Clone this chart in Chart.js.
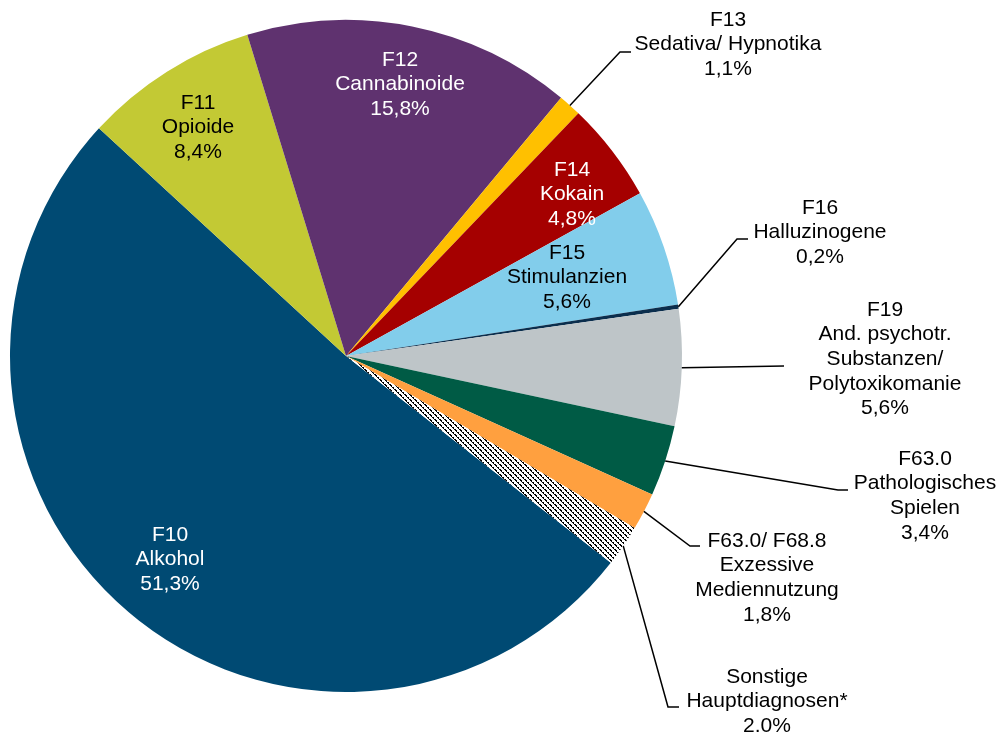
<!DOCTYPE html>
<html>
<head>
<meta charset="utf-8">
<script src="https://cdn.jsdelivr.net/npm/chart.js@4.4.1/dist/chart.umd.min.js"></script>
<style>
  html, body { margin: 0; padding: 0; background: #fff; }
  #wrap { width: 1006px; height: 732px; position: relative; }
</style>
</head>
<body>
<div id="wrap"><canvas id="pie"></canvas></div>
<script>
// Daten
const codes = ["F10", "F11", "F12", "F13", "F14", "F15", "F16", "F19", "F63.0", "F63.0/ F68.8", ""]
const names = [
  ["Alkohol"], ["Opioide"], ["Cannabinoide"], ["Sedativa/ Hypnotika"], ["Kokain"], ["Stimulanzien"],
  ["Halluzinogene"], ["And. psychotr.", "Substanzen/", "Polytoxikomanie"], ["Pathologisches", "Spielen"],
  ["Exzessive", "Mediennutzung"], ["Sonstige", "Hauptdiagnosen*"]
]
const shares = [51.3, 8.4, 15.8, 1.1, 4.8, 5.6, 0.2, 5.6, 3.4, 1.8, 2.0]
const shareLabels = ["51,3%", "8,4%", "15,8%", "1,1%", "4,8%", "5,6%", "0,2%", "5,6%", "3,4%", "1,8%", "2.0%"]

// Schraffur für "Sonstige"
function hatch() {
  const n = 5
  const c = document.createElement("canvas")
  c.width = n; c.height = n
  const g = c.getContext("2d")
  g.fillStyle = "#fff"
  g.fillRect(0, 0, n, n)
  g.fillStyle = "#000"
  for (let i = 0; i < n; i++) {
    g.fillRect(i, i, 1, 1)
    if (i % 2 === 0) g.fillRect((i + 1) % n, i, 1, 1)
  }
  return g.createPattern(c, "repeat")
}

const colors = ["#004A73", "#C3C934", "#5F326F", "#FFC000", "#A50000", "#82CDEB",
  "#0B2E4D", "#BEC5C8", "#005B45", "#FFA03F", hatch()]

// Beschriftung: innen (ohne Linie) oder außen mit Führungslinie
const labelPos = [
  { x: 170, y: 535, color: "#fff" },
  { x: 198, y: 103, color: "#000" },
  { x: 400, y: 60, color: "#fff" },
  { x: 728, y: 20, color: "#000", line: [[620, 52], [631, 52]] },
  { x: 572, y: 170, color: "#fff" },
  { x: 567, y: 253, color: "#000" },
  { x: 820, y: 208, color: "#000", line: [[737, 239], [748, 239]] },
  { x: 885, y: 310, color: "#000", line: [[784, 366]] },
  { x: 925, y: 459, color: "#000", line: [[838, 490], [848, 490]] },
  { x: 767, y: 541, color: "#000", line: [[690, 546], [700, 546]] },
  { x: 767, y: 677, color: "#000", line: [[668, 707], [679, 707]] },
]

const labelPlugin = {
  id: "pieLabels",
  afterDatasetsDraw(chart) {
    const ctx = chart.ctx
    const arcs = chart.getDatasetMeta(0).data
    ctx.save()
    ctx.font = "21px 'Liberation Sans', Arial, sans-serif"
    ctx.textAlign = "center"
    ctx.textBaseline = "middle"
    arcs.forEach((arc, i) => {
      const p = labelPos[i]
      if (p.line) {
        const { x, y, startAngle, endAngle, outerRadius } = arc.getProps(["x", "y", "startAngle", "endAngle", "outerRadius"], true)
        const mid = (startAngle + endAngle) / 2
        ctx.beginPath()
        ctx.moveTo(x + Math.cos(mid) * outerRadius, y + Math.sin(mid) * outerRadius)
        p.line.forEach((pt) => ctx.lineTo(pt[0], pt[1]))
        ctx.strokeStyle = "#000"
        ctx.lineWidth = 1.5
        ctx.stroke()
      }
      const lines = (codes[i] ? [codes[i]] : []).concat(names[i], [shareLabels[i]])
      ctx.fillStyle = p.color
      lines.forEach((t, k) => ctx.fillText(t, p.x, p.y + k * 24.6))
    })
    ctx.restore()
  },
}

new Chart(document.getElementById("pie"), {
  type: "pie",
  data: {
    labels: codes.map((c, i) => (c ? c + " " : "") + names[i].join(" ")),
    datasets: [
      {
        data: shares,
        backgroundColor: colors,
        borderWidth: 0,
        hoverOffset: 0,
      },
    ],
  },
  options: {
    responsive: true,
    maintainAspectRatio: false,
    animation: false,
    rotation: 128,
    layout: { padding: { left: 10, right: 324, top: 20, bottom: 40 } },
    plugins: { legend: { display: false }, tooltip: { enabled: false } },
  },
  plugins: [labelPlugin],
})
</script>
</body>
</html>
